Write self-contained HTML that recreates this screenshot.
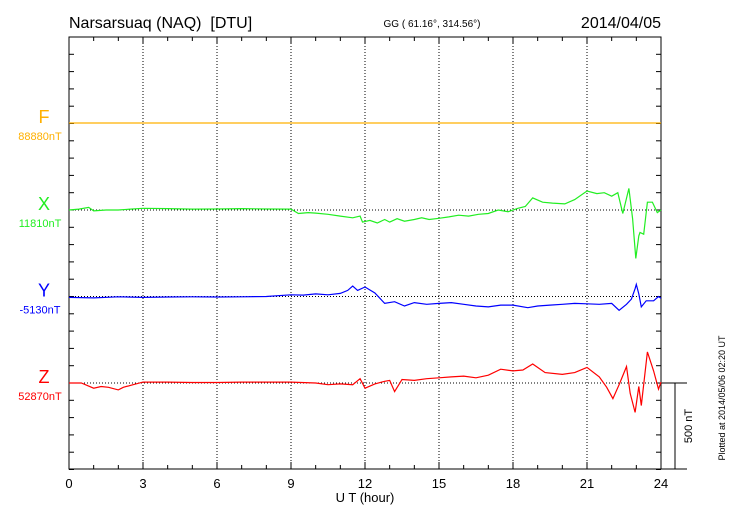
<!DOCTYPE html>
<html><head><meta charset="utf-8"><style>
body{margin:0;background:#fff;}
svg{display:block;font-family:"Liberation Sans",sans-serif;}
</style></head><body>
<svg id="chart" width="730" height="520" viewBox="0 0 730 520">
<text x="69" y="28" font-size="16">Narsarsuaq (NAQ)&#160;&#160;[DTU]</text>
<text x="432" y="27" font-size="10" text-anchor="middle">GG ( 61.16°, 314.56°)</text>
<text x="661" y="28" font-size="16" text-anchor="end">2014/04/05</text>
<g id="grid"></g>
<g id="axes"></g>
<g id="series"></g>
<text x="365" y="502" font-size="13" text-anchor="middle">U T (hour)</text>
<text transform="translate(692,426) rotate(-90)" font-size="11" text-anchor="middle">500 nT</text>
<text transform="translate(725,398) rotate(-90)" font-size="9" text-anchor="middle">Plotted at 2014/05/06 02:20 UT</text>
</svg>
<script>
const xTicks=[0,3,6,9,12,15,18,21,24];
const compNames=["F","X","Y","Z"];
const compBaselines=["88880nT","11810nT","-5130nT","52870nT"];
const compColors=["#ffb000","#22ee22","#0000ff","#ff0000"];
const fTimes=[0,24];
const fVals=[0,0];
const xTimes=[0,0.4,0.8,1,1.5,2,2.5,3,4,5,6,7,8,9,9.3,9.7,10,10.5,11,11.5,11.8,11.9,12.2,12.5,12.8,13,13.3,13.6,14,14.3,14.6,15,15.4,15.8,16.2,16.6,17,17.4,17.8,18.2,18.5,18.8,19.2,19.6,20.1,20.5,21,21.4,21.7,22,22.25,22.45,22.7,22.85,22.98,23.1,23.15,23.3,23.45,23.65,23.85,24];
const xVals=[0,5,15,-5,0,0,5,10,8,5,6,8,6,5,-20,-15,-18,-25,-35,-45,-35,-70,-60,-75,-55,-70,-50,-65,-55,-45,-55,-48,-40,-30,-35,-25,-20,0,-10,10,20,70,45,40,35,60,110,95,100,80,100,-20,125,-50,-280,-150,-130,-140,45,45,-15,0];
const yTimes=[0,1,2,3,4,5,6,7,8,9,9.5,10,10.5,11,11.3,11.5,11.7,12,12.4,12.8,13.2,13.6,14,14.5,15,15.5,16,16.5,17,17.5,18,18.6,19,19.5,20,20.5,21,21.5,22,22.3,22.6,22.8,22.95,23.0,23.1,23.2,23.4,23.7,23.9,24];
const yVals=[-5,-8,-2,-5,-3,-2,-3,-2,0,10,8,15,10,18,35,60,35,55,20,-40,-30,-55,-35,-45,-40,-35,-45,-55,-60,-50,-50,-65,-55,-50,-45,-40,-42,-45,-40,-80,-45,-15,45,70,15,-60,-25,-25,0,-10];
const zTimes=[0,0.5,1,1.3,1.6,2,2.2,2.6,3,4,5,6,7,8,9,10,10.5,11,11.5,11.8,12,12.4,12.8,13,13.2,13.5,14,14.5,15,15.5,16,16.5,17,17.5,18,18.4,18.8,19.3,20,20.5,21,21.5,21.8,22.05,22.3,22.6,22.75,22.95,23.1,23.2,23.45,23.7,23.9,24];
const zVals=[0,0,-30,-20,-25,-40,-25,-10,5,5,3,3,5,5,5,0,-10,-5,-10,25,-30,-5,10,15,-50,20,15,25,30,35,40,30,45,80,70,75,110,60,50,60,90,35,-25,-90,-10,95,-60,-170,-20,-130,180,70,-35,5];
const times=[fTimes,xTimes,yTimes,zTimes];
const vals=[fVals,xVals,yVals,zVals];

const NS="http://www.w3.org/2000/svg";
const L=69,R=661,T=37,B=469;
const baseY=[123,210,296.5,383];
const pxPerNT=86.5/500;
const xs=t=>L+(R-L)*t/24;
const ys=(i,v)=>baseY[i]-v*pxPerNT;
function mk(tag,attrs,parent){const e=document.createElementNS(NS,tag);for(const k in attrs)e.setAttribute(k,attrs[k]);parent.appendChild(e);return e;}
const grid=document.getElementById('grid'),axes=document.getElementById('axes'),ser=document.getElementById('series'),svg=document.getElementById('chart');
xTicks.forEach(t=>{if(t>0&&t<24){const g=mk('line',{x1:xs(t),x2:xs(t),y1:T,y2:B,stroke:'#000','stroke-width':1,'stroke-dasharray':'1,2'},grid);

}
const lb=mk('text',{x:xs(t),y:488,'font-size':13,'text-anchor':'middle'},axes);lb.textContent=t;

});
for(let h=0;h<=24;h++){const len=(h%3==0)?7:4;
mk('line',{x1:xs(h),x2:xs(h),y1:B,y2:B-len,stroke:'#000'},axes);
mk('line',{x1:xs(h),x2:xs(h),y1:T,y2:T+len,stroke:'#000'},axes);}
for(let k=0;k<=25;k++){const y=T+k*17.3;mk('line',{x1:L,x2:L+5,y1:y,y2:y,stroke:'#000'},axes);mk('line',{x1:R,x2:R-5,y1:y,y2:y,stroke:'#000'},axes);}
const fr=mk('rect',{x:L,y:T,width:R-L,height:B-T,fill:'none',stroke:'#000','stroke-width':1},axes);


mk('line',{x1:R,x2:687,y1:383,y2:383,stroke:'#000'},axes);
mk('line',{x1:R,x2:687,y1:B,y2:B,stroke:'#000'},axes);
const sb=mk('line',{x1:675,x2:675,y1:383,y2:B,stroke:'#000'},axes);


compNames.forEach((n,i)=>{
const bl=mk('line',{x1:L,x2:R,y1:baseY[i],y2:baseY[i],stroke:'#000','stroke-dasharray':'1,2'},grid);


const t1=mk('text',{x:44,y:baseY[i]-0,'font-size':18,'text-anchor':'middle',fill:compColors[i]},svg);t1.textContent=n;


const t2=mk('text',{x:40,y:baseY[i]+17,'font-size':11,'text-anchor':'middle',fill:compColors[i]},svg);t2.textContent=compBaselines[i];


const pts=times[i].map((t,j)=>xs(t).toFixed(1)+','+ys(i,vals[i][j]).toFixed(1)).join(' ');
const pl=mk('polyline',{points:pts,fill:'none',stroke:compColors[i],'stroke-width':1.2},ser);


});
</script>
</body></html>
